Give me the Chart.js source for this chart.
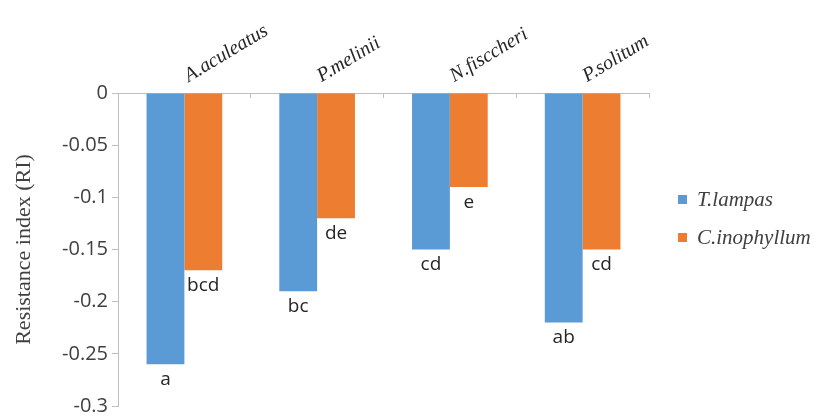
<!DOCTYPE html>
<html>
<head>
<meta charset="utf-8">
<script src="https://cdn.jsdelivr.net/npm/chart.js@4.4.0/dist/chart.umd.min.js"></script>
<style>
  html, body { margin: 0; padding: 0; background: #fff; }
  #wrap { width: 814px; height: 417px; }
</style>
</head>
<body>
<div id="wrap"><canvas id="riChart"></canvas></div>
<script>
// kategoriler ve seriler
const fungi = ['A.aculeatus', 'P.melinii', 'N.fisccheri', 'P.solitum'];
const seriesNames = ['T.lampas', 'C.inophyllum'];
const lampasRI = [-0.26, -0.19, -0.15, -0.22];
const inophyllumRI = [-0.17, -0.12, -0.09, -0.15];
const lampasLetters = ['a', 'bc', 'cd', 'ab'];
const inophyllumLetters = ['bcd', 'de', 'e', 'cd'];
const yTicks = [0, -0.05, -0.1, -0.15, -0.2, -0.25, -0.3];

const barColors = ['#5B9BD5', '#ED7D31'];
const axisGray = '#BFBFBF';
const textGray = '#404040';

// harf etiketleri (barların altına)
const letterPlugin = {
    id: 'letterLabels',
    afterDatasetsDraw(chart) {
        const ctx = chart.ctx;
        ctx.save();
        ctx.font = '19px "Open Sans", sans-serif';
        ctx.fillStyle = '#262626';
        ctx.textAlign = 'center';
        ctx.textBaseline = 'top';
        chart.data.datasets.forEach((ds, i) => {
            const meta = chart.getDatasetMeta(i);
            meta.data.forEach((bar, j) => {
                ctx.fillText(ds.letters[j], bar.x, bar.y + 6);
            });
        });
        ctx.restore();
    }
};

// sağdaki lejant (dataset etiket ve renklerinden)
const sideLegend = {
    id: 'sideLegend',
    afterDraw(chart) {
        const ctx = chart.ctx;
        const area = chart.chartArea;
        const x0 = area.right + 29;
        const y0 = 200;
        const rowGap = 38;
        ctx.save();
        ctx.font = 'italic 21px "Liberation Serif", serif';
        ctx.textBaseline = 'middle';
        ctx.textAlign = 'left';
        chart.data.datasets.forEach((ds, i) => {
            const y = y0 + i * rowGap;
            ctx.fillStyle = ds.backgroundColor;
            ctx.fillRect(x0, y - 5, 9, 9);
            ctx.fillStyle = textGray;
            ctx.fillText(ds.label, x0 + 19, y);
        });
        ctx.restore();
    }
};

const ctx = document.getElementById('riChart').getContext('2d');
new Chart(ctx, {
    type: 'bar',
    data: {
        labels: fungi,
        datasets: [
            {
                label: seriesNames[0],
                data: lampasRI,
                letters: lampasLetters,
                backgroundColor: barColors[0],
                categoryPercentage: 0.57,
                barPercentage: 1.0
            },
            {
                label: seriesNames[1],
                data: inophyllumRI,
                letters: inophyllumLetters,
                backgroundColor: barColors[1],
                categoryPercentage: 0.57,
                barPercentage: 1.0
            }
        ]
    },
    options: {
        responsive: true,
        maintainAspectRatio: false,
        animation: false,
        layout: { padding: { left: 0, top: 0, right: 165, bottom: 11 } },
        plugins: {
            legend: { display: false },
            tooltip: { enabled: false }
        },
        scales: {
            x: {
                position: 'top',
                // tick çizgileri eksenin altına doğru
                grid: { drawOnChartArea: false, color: axisGray, tickLength: -5 },
                border: { color: axisGray },
                ticks: {
                    minRotation: 31,
                    maxRotation: 31,
                    padding: 10,
                    labelOffset: 14,
                    color: '#262626',
                    font: { family: '"Liberation Serif", serif', style: 'italic', size: 20 }
                },
                afterFit(scale) {
                    scale.height = 93;
                    scale.paddingLeft = 0;
                    scale.paddingRight = 0;
                }
            },
            y: {
                min: -0.3,
                max: 0,
                afterBuildTicks(scale) {
                    scale.ticks = yTicks.map(v => ({ value: v }));
                },
                grid: { drawOnChartArea: false, color: axisGray, tickLength: 6 },
                border: { color: axisGray },
                ticks: {
                    padding: 4,
                    color: textGray,
                    font: { family: '"Open Sans", sans-serif', size: 20 },
                    callback: v => String(Number(v.toFixed(2)))
                },
                title: {
                    display: true,
                    text: 'Resistance index (RI)',
                    color: textGray,
                    padding: { top: 11, bottom: 0 },
                    font: { family: '"Liberation Serif", serif', size: 22 }
                },
                afterFit(scale) {
                    scale.width = 118;
                    scale.paddingTop = 0;
                    scale.paddingBottom = 0;
                }
            }
        }
    },
    plugins: [letterPlugin, sideLegend]
});
</script>
</body>
</html>
